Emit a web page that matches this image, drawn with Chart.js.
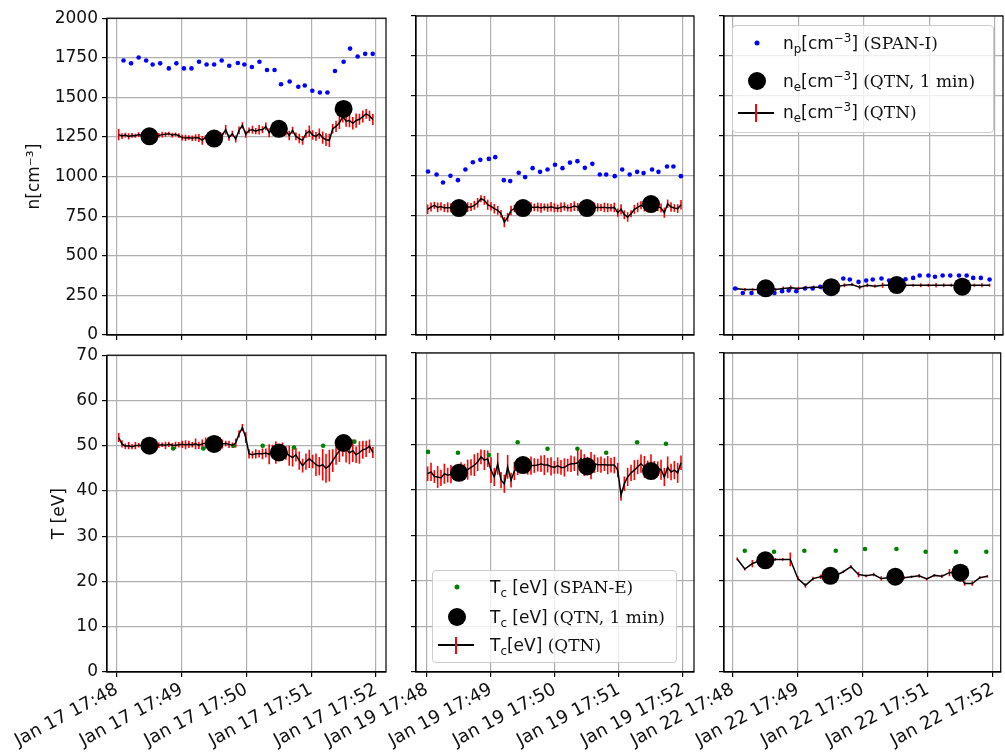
<!DOCTYPE html>
<html>
<head>
<meta charset="utf-8">
<script src="https://cdn.jsdelivr.net/npm/chart.js@4.4.0/dist/chart.umd.min.js"></script>
<style>
body { margin:0; background:#fff; width:1005px; height:755px; overflow:hidden; position:relative; font-family:"DejaVu Sans"; }
canvas { position:absolute; }
.leg { position:absolute; background:rgba(255,255,255,0.8); border:1px solid #cccccc; border-radius:4px; box-sizing:border-box; }
.mk { position:absolute; border-radius:50%; transform:translate(-50%,-50%); }
.lt { position:absolute; transform:translateY(-50%); font-size:17px; line-height:20px; white-space:nowrap; color:#111; }
.lt sub, .lt sup { font-size:70%; line-height:0; }
.sr { font-family:"DejaVu Serif"; }
.ln { position:absolute; height:2px; background:#000; transform:translateY(-50%); }
.eb { position:absolute; width:2px; background:#ff0000; transform:translateX(-50%); }
</style>
</head>
<body>

<script>
// x axis: seconds after 17:48:00 on each day
var tickSec = [0, 60, 120, 180, 240];
var tickLabels17 = ['Jan 17 17:48', 'Jan 17 17:49', 'Jan 17 17:50', 'Jan 17 17:51', 'Jan 17 17:52'];
var tickLabels19 = ['Jan 19 17:48', 'Jan 19 17:49', 'Jan 19 17:50', 'Jan 19 17:51', 'Jan 19 17:52'];
var tickLabels22 = ['Jan 22 17:48', 'Jan 22 17:49', 'Jan 22 17:50', 'Jan 22 17:51', 'Jan 22 17:52'];
var nTicks = [0, 250, 500, 750, 1000, 1250, 1500, 1750, 2000];
var tTicks = [0, 10, 20, 30, 40, 50, 60, 70];

// QTN 1 min averages
var qtnMinSec = [30, 90, 150, 210];
var nMin17 = [1254, 1240, 1302, 1427];
var nMin19 = [796, 796, 796, 821];
var nMin22 = [293, 300, 313, 303];
var tMin17 = [50.0, 50.4, 48.5, 50.6];
var tMin19 = [43.7, 45.4, 45.1, 44.1];
var tMin22 = [24.5, 21.1, 20.9, 21.8];

// SPAN-I proton density
var npSec17 = [6, 13, 20, 27, 33, 40, 48, 55, 62, 69, 76, 83, 90, 97, 104, 112, 118, 125, 132, 139, 146, 152, 160, 168, 174, 181, 188, 195, 202, 210, 216, 223, 230, 237];
var np17 = [1733, 1715, 1752, 1733, 1708, 1715, 1683, 1715, 1683, 1683, 1725, 1708, 1708, 1733, 1700, 1717, 1708, 1692, 1725, 1673, 1673, 1583, 1600, 1567, 1575, 1542, 1531, 1531, 1667, 1725, 1808, 1758, 1775, 1775];
var npSec19 = [1, 9, 15, 22, 29, 36, 43, 50, 58, 64, 72, 78, 86, 92, 99, 106, 113, 120, 127, 134, 141, 148, 155, 162, 168, 176, 183, 190, 197, 203, 211, 217, 225, 231, 238];
var np19 = [1025, 1006, 956, 998, 971, 1038, 1083, 1098, 1104, 1115, 971, 965, 1017, 990, 1046, 1023, 1038, 1067, 1046, 1081, 1090, 1048, 1073, 1006, 1006, 996, 1038, 1006, 1023, 1015, 1038, 1023, 1056, 1056, 996];
var npSec22 = [2, 9, 17, 24, 31, 38, 45, 51, 58, 66, 73, 80, 87, 101, 107, 115, 122, 128, 136, 143, 150, 158, 165, 171, 179, 185, 192, 199, 207, 214, 220, 227, 235];
var np22 = [292, 263, 263, 269, 275, 263, 275, 279, 275, 292, 292, 302, 304, 354, 348, 333, 342, 348, 354, 342, 348, 350, 358, 373, 373, 365, 373, 373, 373, 373, 358, 358, 348];

// SPAN-E core temperature
var teSec17 = [52, 80, 108, 135, 164, 191, 220];
var te17 = [49.4, 49.4, 50.0, 50.0, 49.6, 50.0, 50.9];
var teSec19 = [1, 29, 58, 85, 113, 141, 168, 197, 224];
var te19 = [48.3, 48.1, 47.6, 50.4, 49.0, 49.0, 48.1, 50.4, 50.1];
var teSec22 = [11, 38, 66, 95, 122, 151, 178, 206, 234];
var te22 = [26.6, 26.4, 26.6, 26.6, 27.0, 27.0, 26.4, 26.4, 26.4];

// QTN full resolution
var qSec17 = [1.5, 4.6, 7.7, 10.8, 13.9, 17.0, 20.1, 23.2, 26.3, 29.4, 32.5, 35.6, 38.7, 41.8, 44.9, 48.0, 51.1, 54.2, 57.3, 60.4, 63.5, 66.6, 69.7, 72.8, 75.9, 79.0, 82.1, 85.2, 88.3, 91.4, 94.5, 97.6, 100.7, 103.8, 106.9, 110.0, 113.1, 116.2, 119.3, 122.4, 125.5, 128.6, 131.7, 134.8, 137.9, 141.0, 144.1, 147.2, 150.3, 153.4, 156.5, 159.6, 162.7, 165.8, 168.9, 172.0, 175.1, 178.2, 181.3, 184.4, 187.5, 190.6, 193.7, 196.8, 199.9, 203.0, 206.1, 209.2, 212.3, 215.4, 218.5, 221.6, 224.7, 227.8, 230.9, 234.0, 237.1];
var qn17 = [1265, 1256, 1262, 1254, 1260, 1258, 1265, 1260, 1260, 1258, 1260, 1256, 1260, 1265, 1267, 1271, 1262, 1267, 1258, 1246, 1244, 1246, 1242, 1246, 1244, 1229, 1248, 1250, 1252, 1256, 1256, 1262, 1296, 1246, 1271, 1237, 1292, 1323, 1267, 1292, 1296, 1287, 1296, 1296, 1317, 1277, 1302, 1292, 1300, 1300, 1287, 1260, 1292, 1254, 1240, 1229, 1271, 1287, 1262, 1254, 1271, 1246, 1233, 1229, 1302, 1317, 1340, 1379, 1350, 1354, 1337, 1354, 1362, 1379, 1396, 1383, 1360];
var qnErr17 = [35, 18, 15, 20, 15, 12, 15, 18, 12, 12, 15, 12, 15, 18, 15, 12, 15, 12, 15, 18, 20, 15, 18, 22, 25, 28, 15, 18, 15, 12, 15, 15, 30, 20, 18, 22, 25, 20, 22, 18, 25, 20, 30, 22, 25, 28, 20, 30, 22, 25, 28, 30, 22, 25, 30, 28, 25, 35, 30, 28, 32, 38, 40, 42, 30, 35, 40, 38, 35, 42, 40, 45, 35, 38, 30, 32, 35];
var qt17 = [51.8, 50.4, 49.9, 50.0, 49.8, 50.0, 50.1, 50.0, 50.0, 50.0, 50.0, 50.1, 50.1, 50.2, 50.1, 50.3, 50.1, 50.1, 50.2, 50.3, 50.2, 50.3, 50.2, 50.4, 50.1, 50.4, 50.6, 50.2, 50.4, 50.4, 50.5, 50.4, 50.5, 50.3, 50.1, 50.6, 52.6, 54.0, 51.8, 48.2, 48.0, 48.2, 48.2, 48.2, 48.4, 48.1, 48.7, 48.5, 48.4, 48.7, 48.4, 47.8, 47.4, 48.0, 46.7, 45.6, 46.5, 47.1, 46.5, 45.8, 45.5, 45.8, 45.0, 45.6, 46.7, 47.8, 48.9, 49.6, 49.3, 48.4, 48.9, 48.0, 48.5, 49.1, 49.3, 49.9, 48.5];
var qtErr17 = [1.0, 0.8, 0.6, 0.8, 0.6, 0.8, 0.5, 0.6, 0.5, 0.6, 0.6, 0.8, 0.6, 0.5, 0.8, 0.6, 0.5, 0.8, 0.6, 0.8, 1.0, 0.8, 0.6, 1.2, 0.8, 1.0, 1.2, 0.8, 1.5, 1.0, 0.8, 1.0, 0.6, 0.8, 0.6, 1.0, 0.8, 0.8, 1.2, 1.0, 0.8, 1.0, 0.8, 1.2, 1.0, 2.2, 1.5, 2.5, 1.8, 2.0, 1.5, 2.2, 2.0, 1.5, 2.0, 1.5, 1.8, 2.0, 1.5, 2.5, 2.0, 3.5, 3.2, 3.5, 2.5, 2.0, 2.5, 2.0, 3.0, 2.5, 2.5, 1.8, 2.5, 2.0, 1.8, 1.5, 1.2];

var qSec19 = [0.6, 3.8, 6.9, 10.0, 13.1, 16.3, 19.4, 22.5, 25.6, 28.8, 31.9, 35.0, 38.1, 41.3, 44.4, 47.5, 50.6, 53.8, 56.9, 60.0, 63.1, 66.3, 69.4, 72.5, 75.6, 78.8, 81.9, 85.0, 88.1, 91.3, 94.4, 97.5, 100.6, 103.8, 106.9, 110.0, 113.1, 116.3, 119.4, 122.5, 125.6, 128.8, 131.9, 135.0, 138.1, 141.3, 144.4, 147.5, 150.6, 153.8, 156.9, 160.0, 163.1, 166.3, 169.4, 172.5, 175.6, 178.8, 181.9, 185.0, 188.1, 191.3, 194.4, 197.5, 200.6, 203.8, 206.9, 210.0, 213.1, 216.3, 219.4, 222.5, 225.6, 228.8, 231.9, 235.0, 238.1];
var qn19 = [788, 802, 813, 800, 806, 796, 800, 798, 800, 798, 796, 800, 802, 802, 813, 829, 854, 844, 817, 806, 792, 781, 760, 708, 738, 781, 792, 802, 796, 792, 796, 802, 800, 802, 796, 802, 798, 804, 798, 794, 800, 806, 796, 800, 808, 802, 806, 813, 802, 796, 800, 800, 800, 800, 798, 798, 800, 767, 788, 754, 740, 760, 788, 800, 813, 802, 802, 802, 802, 806, 796, 767, 823, 802, 796, 792, 817];
var qnErr19 = [30, 28, 22, 30, 26, 25, 32, 28, 24, 30, 26, 22, 30, 25, 28, 30, 22, 28, 32, 26, 30, 28, 24, 32, 28, 30, 22, 28, 30, 25, 26, 30, 24, 28, 30, 22, 26, 30, 28, 24, 30, 26, 22, 28, 30, 25, 28, 30, 24, 28, 30, 26, 22, 30, 28, 24, 30, 26, 32, 28, 30, 22, 28, 30, 25, 28, 30, 26, 24, 30, 28, 32, 26, 30, 24, 28, 30];
var qt19 = [43.5, 43.9, 42.9, 42.8, 42.6, 43.5, 43.2, 43.4, 43.5, 43.7, 44.0, 44.1, 44.4, 44.9, 45.4, 46.1, 47.2, 46.5, 46.8, 44.3, 42.8, 45.7, 42.1, 41.3, 45.0, 42.1, 44.1, 45.0, 45.4, 45.4, 45.1, 45.3, 45.3, 45.4, 45.7, 45.4, 45.4, 45.1, 44.9, 45.3, 44.9, 44.9, 45.4, 45.7, 45.7, 45.9, 46.8, 45.4, 45.4, 45.3, 45.7, 45.5, 45.5, 45.5, 45.4, 45.4, 45.4, 44.3, 38.8, 41.3, 42.8, 43.7, 44.3, 45.0, 45.7, 45.0, 44.6, 45.0, 44.3, 44.6, 44.4, 42.8, 44.9, 43.9, 44.3, 43.7, 45.9];
var qtErr19 = [1.6, 2.0, 1.4, 2.4, 1.8, 2.2, 1.6, 2.0, 1.4, 1.8, 2.0, 1.6, 2.2, 1.8, 2.4, 2.0, 1.6, 2.2, 1.8, 2.8, 2.0, 2.4, 1.8, 2.0, 2.6, 1.6, 2.0, 1.8, 1.6, 1.4, 1.8, 2.0, 1.6, 1.4, 1.8, 2.2, 1.6, 2.0, 1.4, 1.8, 1.6, 2.0, 1.4, 1.8, 1.6, 2.8, 2.0, 2.4, 1.8, 3.0, 2.0, 1.6, 1.8, 1.4, 2.0, 1.6, 1.8, 1.6, 1.2, 1.6, 2.0, 1.8, 2.2, 1.6, 2.0, 2.4, 1.8, 2.8, 2.0, 1.6, 2.2, 2.0, 2.4, 1.8, 2.0, 2.2, 1.6];

var qSec22 = [4, 11, 18, 25, 32, 39, 46, 53, 60, 67, 74, 81, 88, 95, 102, 109, 116, 123, 130, 137, 144, 151, 158, 165, 172, 179, 186, 193, 200, 207, 214, 221, 228, 235];
var qn22 = [290, 285, 285, 283, 285, 285, 292, 296, 292, 296, 300, 300, 304, 304, 312, 317, 300, 312, 306, 312, 312, 312, 312, 312, 312, 312, 312, 312, 312, 312, 312, 312, 312, 312];
var qnErr22 = [8, 10, 8, 10, 12, 10, 12, 14, 10, 12, 10, 14, 12, 10, 12, 10, 14, 12, 10, 16, 12, 10, 14, 10, 12, 10, 14, 12, 10, 12, 10, 10, 12, 10];
var qt22 = [24.8, 22.6, 23.8, 24.4, 24.4, 24.7, 24.7, 24.7, 20.5, 19.0, 20.5, 20.9, 21.1, 21.2, 22.0, 23.1, 21.4, 21.1, 21.4, 20.5, 20.7, 20.9, 20.7, 20.9, 21.1, 20.4, 21.2, 21.0, 21.8, 22.0, 19.4, 19.4, 20.7, 21.0];
var qtErr22 = [0.3, 0.3, 0.8, 0.4, 0.4, 0.3, 0.3, 1.5, 0.5, 0.5, 0.4, 0.5, 0.6, 0.5, 0.3, 0.4, 0.6, 0.3, 0.4, 0.5, 0.3, 0.4, 0.3, 0.3, 0.4, 0.3, 0.3, 0.4, 0.8, 0.6, 0.5, 0.5, 0.3, 0.3];

function pts(xs, ys) {
    return xs.map(function(x, i) { return {x: x, y: ys[i]}; });
}

// red vertical error bars, drawn under the datasets
function errorBarPlugin(xs, ys, errs) {
    return {
        id: 'errbars',
        beforeDatasetsDraw: function(chart) {
            var ctx = chart.ctx, sx = chart.scales.x, sy = chart.scales.y, a = chart.chartArea;
            ctx.save();
            ctx.beginPath();
            ctx.rect(a.left, a.top, a.right - a.left, a.bottom - a.top);
            ctx.clip();
            ctx.strokeStyle = '#ff0000';
            ctx.lineWidth = 1.6;
            for (var i = 0; i < xs.length; i++) {
                var px = sx.getPixelForValue(xs[i]);
                ctx.beginPath();
                ctx.moveTo(px, sy.getPixelForValue(ys[i] - errs[i]));
                ctx.lineTo(px, sy.getPixelForValue(ys[i] + errs[i]));
                ctx.stroke();
            }
            ctx.restore();
        }
    };
}

// top and right spines
var framePlugin = {
    id: 'frame',
    afterDatasetsDraw: function(chart) {
        var ctx = chart.ctx, a = chart.chartArea;
        ctx.save();
        ctx.strokeStyle = '#000';
        ctx.lineWidth = 1.2;
        ctx.strokeRect(a.left, a.top, a.right - a.left, a.bottom - a.top);
        ctx.restore();
    }
};

var cols = [
    {cl: 0, L: 107, R: 386, xmin: -9.3, xmax: 249.3},
    {cl: 300, L: 416, R: 694, xmin: -10.3, xmax: 250.3},
    {cl: 610, L: 724, R: 1003, xmin: -8.2, xmax: 247.3}
];
var rows = [
    {ct: 4, T: 16, B: 335, cb: 350},
    {ct: 341, T: 353, B: 672, cb: 755}
];

function makePanel(c, r, o) {
    var col = cols[c], row = rows[r];
    var cv = document.createElement('canvas');
    var w = (c == 2 ? 1005 : col.R + 3) - col.cl;
    var h = row.cb - row.ct;
    cv.width = w;
    cv.height = h;
    cv.style.left = col.cl + 'px';
    cv.style.top = row.ct + 'px';
    document.body.appendChild(cv);

    var tickFont = {family: 'DejaVu Sans', size: 17};
    var datasets = [
        {data: pts(qtnMinSec, o.min), pointRadius: 9, pointBackgroundColor: '#000', pointBorderWidth: 0, showLine: false},
        {data: pts(o.qs, o.q), showLine: true, borderColor: '#000', borderWidth: 1.5, pointRadius: 0, tension: 0},
        {data: pts(o.ds, o.d), pointRadius: 2.3, pointBackgroundColor: o.dotColor, pointBorderWidth: 0, showLine: false}
    ];

    new Chart(cv.getContext('2d'), {
        type: 'scatter',
        data: {datasets: datasets},
        options: {
            responsive: false,
            animation: false,
            events: [],
            layout: {autoPadding: false, padding: {top: row.T - row.ct, right: w - (col.R - col.cl), bottom: 0, left: 0}},
            plugins: {legend: {display: false}, tooltip: {enabled: false}},
            scales: {
                x: {
                    type: 'linear',
                    min: col.xmin,
                    max: col.xmax,
                    afterBuildTicks: function(s) { s.ticks = tickSec.map(function(v) { return {value: v}; }); },
                    afterFit: function(s) { s.height = row.cb - row.B; },
                    ticks: {
                        display: !!o.xLabels,
                        autoSkip: false,
                        minRotation: 28,
                        maxRotation: 28,
                        padding: 2,
                        font: {family: 'DejaVu Sans', size: 18},
                        color: '#111',
                        callback: function(v) { return o.xLabels ? o.xLabels[tickSec.indexOf(v)] : ''; }
                    },
                    grid: {color: '#b0b0b0', lineWidth: 1.2, tickLength: 5, tickColor: '#000'},
                    border: {color: '#000', width: 1.2}
                },
                y: {
                    type: 'linear',
                    min: o.yTicks[0],
                    max: o.yTicks[o.yTicks.length - 1],
                    afterBuildTicks: function(s) { s.ticks = o.yTicks.map(function(v) { return {value: v}; }); },
                    afterFit: function(s) { s.width = col.L - col.cl; },
                    ticks: {
                        display: c == 0,
                        autoSkip: false,
                        padding: 4,
                        font: tickFont,
                        color: '#111',
                        callback: function(v) { return String(v); }
                    },
                    title: {
                        display: c == 0,
                        text: o.yTitle || '',
                        font: tickFont,
                        color: '#111',
                        padding: {top: o.titlePad || 0, bottom: 0}
                    },
                    grid: {color: '#b0b0b0', lineWidth: 1.2, tickLength: 5, tickColor: '#000'},
                    border: {color: '#000', width: 1.2}
                }
            }
        },
        plugins: [errorBarPlugin(o.qs, o.q, o.qe), framePlugin]
    });
}

makePanel(0, 0, {min: nMin17, qs: qSec17, q: qn17, qe: qnErr17, ds: npSec17, d: np17, dotColor: '#0000ff', yTicks: nTicks, yTitle: 'n[cm\u207b\u00b3]', titlePad: 24});
makePanel(1, 0, {min: nMin19, qs: qSec19, q: qn19, qe: qnErr19, ds: npSec19, d: np19, dotColor: '#0000ff', yTicks: nTicks});
makePanel(2, 0, {min: nMin22, qs: qSec22, q: qn22, qe: qnErr22, ds: npSec22, d: np22, dotColor: '#0000ff', yTicks: nTicks});
makePanel(0, 1, {min: tMin17, qs: qSec17, q: qt17, qe: qtErr17, ds: teSec17, d: te17, dotColor: '#008000', yTicks: tTicks, yTitle: 'T [eV]', titlePad: 49, xLabels: tickLabels17});
makePanel(1, 1, {min: tMin19, qs: qSec19, q: qt19, qe: qtErr19, ds: teSec19, d: te19, dotColor: '#008000', yTicks: tTicks, xLabels: tickLabels19});
makePanel(2, 1, {min: tMin22, qs: qSec22, q: qt22, qe: qtErr22, ds: teSec22, d: te22, dotColor: '#008000', yTicks: tTicks, xLabels: tickLabels22});
</script>

<!-- density legend -->
<div class="leg" style="left:732px;top:25px;width:262px;height:108px;"></div>
<div class="mk" style="left:757px;top:43px;width:5px;height:5px;background:#0000ff;"></div>
<div class="lt" style="left:783px;top:43px;">n<sub>p</sub>[cm<sup>−3</sup>] <span class="sr">(SPAN-I)</span></div>
<div class="mk" style="left:757px;top:81px;width:18px;height:18px;background:#000;"></div>
<div class="lt" style="left:783px;top:81px;">n<sub>e</sub>[cm<sup>−3</sup>] <span class="sr">(QTN, 1 min)</span></div>
<div class="ln" style="left:738px;top:113px;width:36px;"></div>
<div class="eb" style="left:756px;top:104px;height:18px;"></div>
<div class="lt" style="left:783px;top:112px;">n<sub>e</sub>[cm<sup>−3</sup>] <span class="sr">(QTN)</span></div>

<!-- temperature legend -->
<div class="leg" style="left:432px;top:570px;width:245px;height:93px;"></div>
<div class="mk" style="left:457px;top:587px;width:5px;height:5px;background:#008000;"></div>
<div class="lt" style="left:490px;top:587px;">T<sub>c</sub> [eV] <span class="sr">(SPAN-E)</span></div>
<div class="mk" style="left:457px;top:617px;width:18px;height:18px;background:#000;"></div>
<div class="lt" style="left:490px;top:617px;">T<sub>c</sub> [eV] <span class="sr">(QTN, 1 min)</span></div>
<div class="ln" style="left:438px;top:645px;width:36px;"></div>
<div class="eb" style="left:456px;top:637px;height:17px;"></div>
<div class="lt" style="left:490px;top:645px;">T<sub>c</sub>[eV] <span class="sr">(QTN)</span></div>

</body>
</html>
